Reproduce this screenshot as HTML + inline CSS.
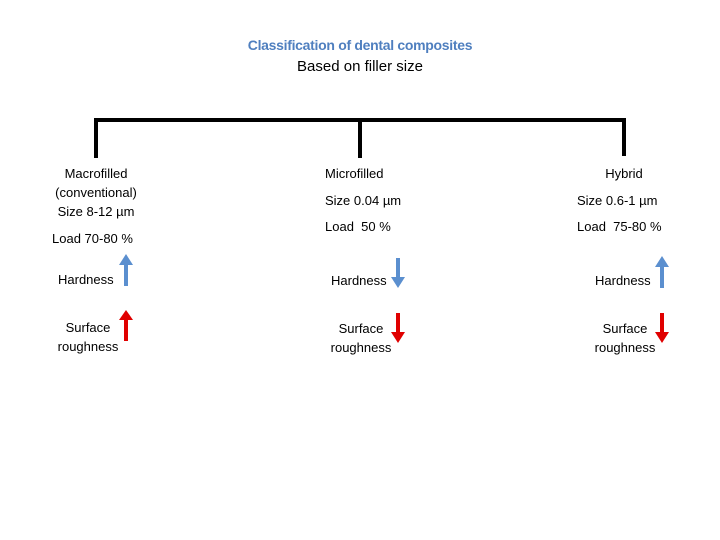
<!DOCTYPE html>
<html><head><meta charset="utf-8"><style>
body{margin:0;width:720px;height:540px;background:#fff;position:relative;overflow:hidden;font-family:"Liberation Sans",sans-serif;color:#000}
.t{position:absolute;white-space:nowrap;font-size:13px;line-height:19px;transform:translateX(-50%);text-align:center}
.l{position:absolute;white-space:nowrap;font-size:13px;line-height:19px}
</style></head><body>
<svg width="720" height="540" style="position:absolute;left:0;top:0">
<g stroke="#000" stroke-width="4" fill="none">
<line x1="94" y1="120" x2="626" y2="120"/>
<line x1="96" y1="118" x2="96" y2="158"/>
<line x1="360" y1="118" x2="360" y2="158"/>
<line x1="624" y1="118" x2="624" y2="156"/>
</g>
<g fill="#5b8fcf">
<rect x="124" y="264" width="4" height="22"/><polygon points="119,265 126,254 133,265"/>
<rect x="396" y="258" width="4" height="20"/><polygon points="391,277 398,288 405,277"/>
<rect x="660" y="266" width="4" height="22"/><polygon points="655,267 662,256 669,267"/>
</g>
<g fill="#e00000">
<rect x="124" y="319" width="4" height="22"/><polygon points="119,320 126,310 133,320"/>
<rect x="396" y="313" width="4" height="20"/><polygon points="391,332 398,343 405,332"/>
<rect x="660" y="313" width="4" height="20"/><polygon points="655,332 662,343 669,332"/>
</g>
</svg>
<div class="t" style="left:360px;top:36px;font-size:14px;font-weight:bold;color:#4f7fbf;letter-spacing:-0.3px">Classification of dental composites</div>
<div class="t" style="left:360px;top:57px;font-size:15px">Based on filler size</div>

<div class="t" style="left:96px;top:164px">Macrofilled</div>
<div class="t" style="left:96px;top:183px">(conventional)</div>
<div class="t" style="left:96px;top:202px">Size 8-12 µm</div>
<div class="l" style="left:52px;top:229px">Load 70-80 %</div>
<div class="l" style="left:58px;top:270px">Hardness</div>
<div class="t" style="left:88px;top:318px">Surface</div>
<div class="t" style="left:88px;top:337px">roughness</div>

<div class="l" style="left:325px;top:164px">Microfilled</div>
<div class="l" style="left:325px;top:191px">Size 0.04 µm</div>
<div class="l" style="left:325px;top:217px">Load &nbsp;50 %</div>
<div class="l" style="left:331px;top:271px">Hardness</div>
<div class="t" style="left:361px;top:319px">Surface</div>
<div class="t" style="left:361px;top:338px">roughness</div>

<div class="t" style="left:624px;top:164px">Hybrid</div>
<div class="l" style="left:577px;top:191px">Size 0.6-1 µm</div>
<div class="l" style="left:577px;top:217px">Load &nbsp;75-80 %</div>
<div class="l" style="left:595px;top:271px">Hardness</div>
<div class="t" style="left:625px;top:319px">Surface</div>
<div class="t" style="left:625px;top:338px">roughness</div>
</body></html>
